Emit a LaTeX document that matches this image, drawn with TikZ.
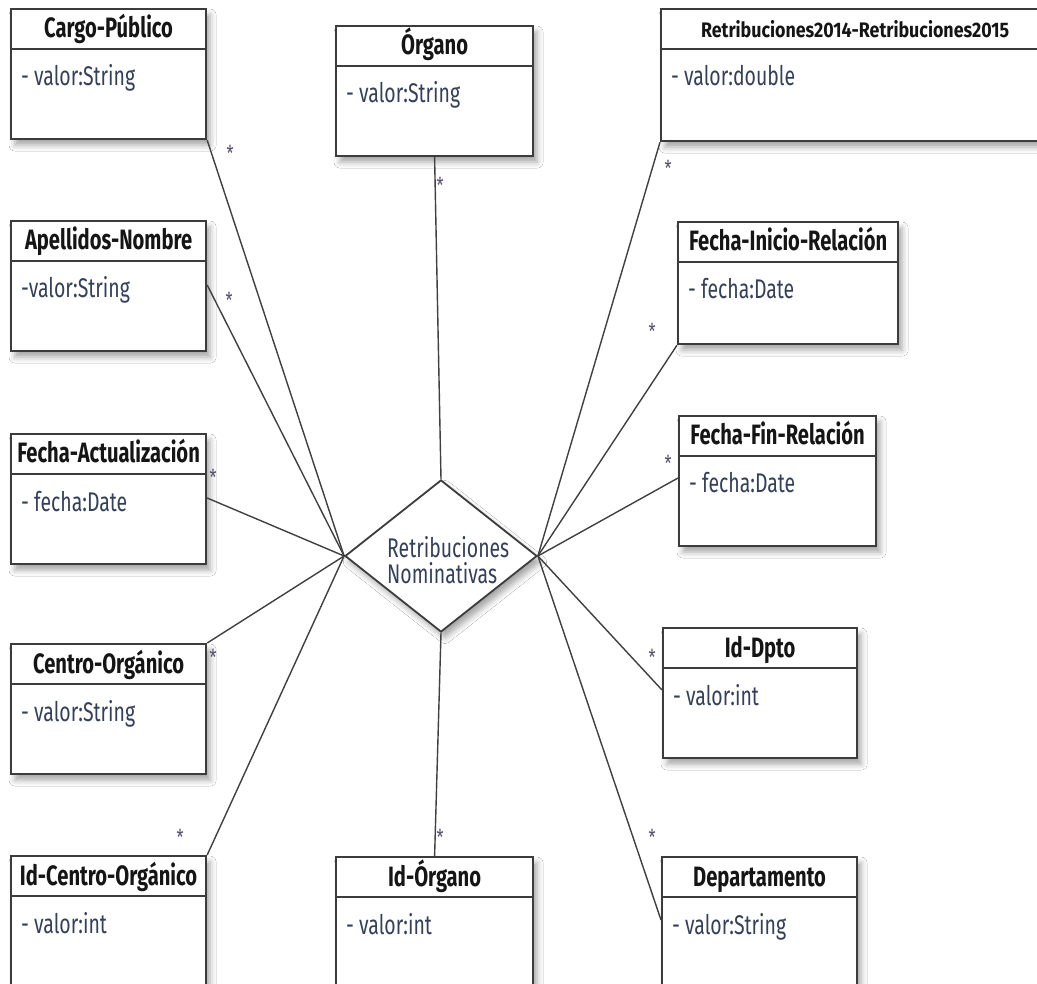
\documentclass[tikz,border=0pt]{standalone}
\usepackage{fontspec}
\setmainfont{Fira Sans}[FakeStretch=0.72]
\newfontfamily\widefont{Fira Sans}[FakeStretch=0.85]
\usetikzlibrary{calc,shapes.geometric,shadows.blur}

\definecolor{boxc}{HTML}{3C3C3C}
\definecolor{linec}{HTML}{404040}
\definecolor{attrc}{HTML}{34405A}
\definecolor{titlec}{HTML}{151515}
\definecolor{multc}{HTML}{5A5070}

\tikzset{
  classbox/.style={draw=boxc, line width=2.2pt, fill=white, rectangle, inner sep=0pt,
    blur shadow={shadow xshift=4pt, shadow yshift=-6pt, shadow blur radius=6pt, shadow opacity=35}},
  classline/.style={draw=boxc, line width=2pt},
  classtitle/.style={font=\bfseries\fontsize{28}{30}\selectfont, text=titlec, inner sep=0pt},
  classattr/.style={font=\fontsize{27}{30}\selectfont, text=attrc, inner sep=0pt},
  reldiamond/.style={diamond, draw=boxc, line width=1.8pt, fill=white, inner sep=0pt,
    blur shadow={shadow xshift=4pt, shadow yshift=-6pt, shadow blur radius=6pt, shadow opacity=35}},
  reltext/.style={font=\fontsize{27}{26}\selectfont, text=attrc, inner sep=0pt, align=left},
  conn/.style={draw=linec, line width=1.4pt},
  mult/.style={font=\fontsize{22}{22}\selectfont, text=multc, inner sep=0pt, anchor=center},
}

% name, left, top, width, height, title, attribute, extra title keys
\newcommand\umlclass[8]{%
  \node[classbox, minimum width=#4pt, minimum height=#5pt, anchor=north west] (#1) at (#2,-#3) {};
  \draw[classline] ($(#1.north west)+(0,-41)$) -- ($(#1.north east)+(0,-41)$);
  \node[classtitle, anchor=base, #8] (#1-t) at ($(#1.north)+(0,-30)$) {#6};
  \node[classattr, anchor=base west] (#1-a) at ($(#1.north west)+(11,-78)$) {#7};
}

\begin{document}
\begin{tikzpicture}[x=1pt, y=1pt]
\useasboundingbox (0,0) rectangle (1037,-984);
\fill[white] (0,0) rectangle (1037,-984);

% relationship
\node[reldiamond, minimum width=192pt, minimum height=152pt] (rel) at (441,-556) {};
\node[reltext, anchor=base west] (rel-t) at (387,-583) {Retribuciones\\Nominativas};

% left column
\umlclass{cargo}{10}{8}{195}{130}{Cargo-Público}{- valor:String}{}
\umlclass{apel}{10}{220}{195}{130}{Apellidos-Nombre}{-valor:String}{}
\umlclass{fact}{10}{433}{195}{130}{Fecha-Actualización}{- fecha:Date}{}
\umlclass{corg}{10}{643}{195}{130}{Centro-Orgánico}{- valor:String}{}
\umlclass{idco}{10}{855}{195}{135}{Id-Centro-Orgánico}{- valor:int}{}

% middle column
\umlclass{organo}{335}{25}{197}{130}{Órgano}{- valor:String}{}
\umlclass{idorg}{335}{856}{197}{135}{Id-Órgano}{- valor:int}{}

% right column
\umlclass{retr}{660}{8}{388}{132}{Retribuciones2014-Retribuciones2015}{- valor:double}{font=\widefont\bfseries\fontsize{21}{24}\selectfont}
\umlclass{fini}{677}{221}{220}{122}{Fecha-Inicio-Relación}{- fecha:Date}{}
\umlclass{ffin}{678}{415}{197}{130}{Fecha-Fin-Relación}{- fecha:Date}{}
\umlclass{idd}{662}{627}{194}{130}{Id-Dpto}{- valor:int}{}
\umlclass{dep}{661}{856}{195}{135}{Departamento}{- valor:String}{}

% associations
\draw[conn] (cargo.south east) -- (rel.west);
\draw[conn] ($(apel.north east)+(0,-65)$) -- (rel.west);
\draw[conn] ($(fact.north east)+(0,-65)$) -- (rel.west);
\draw[conn] (corg.north east) -- (rel.west);
\draw[conn] (idco.north east) -- (rel.west);
\draw[conn] (organo.south) -- (rel.north);
\draw[conn] (idorg.north) -- (rel.south);
\draw[conn] (retr.south west) -- (rel.east);
\draw[conn] (fini.south west) -- (rel.east);
\draw[conn] ($(ffin.north west)+(0,-63)$) -- (rel.east);
\draw[conn] ($(idd.north west)+(0,-63)$) -- (rel.east);
\draw[conn] ($(dep.north west)+(0,-64)$) -- (rel.east);

% multiplicities
\node[mult] (m-cargo) at (230,-153) {*};
\node[mult] (m-apel) at (229,-300) {*};
\node[mult] (m-fact) at (213,-477) {*};
\node[mult] (m-corg) at (213,-657) {*};
\node[mult] (m-idco) at (180,-837) {*};
\node[mult] (m-organo) at (440,-185) {*};
\node[mult] (m-idorg) at (440,-837) {*};
\node[mult] (m-retr) at (668,-168) {*};
\node[mult] (m-fini) at (652,-331) {*};
\node[mult] (m-ffin) at (668,-463) {*};
\node[mult] (m-idd) at (652,-657) {*};
\node[mult] (m-dep) at (652,-837) {*};
\end{tikzpicture}
\end{document}
